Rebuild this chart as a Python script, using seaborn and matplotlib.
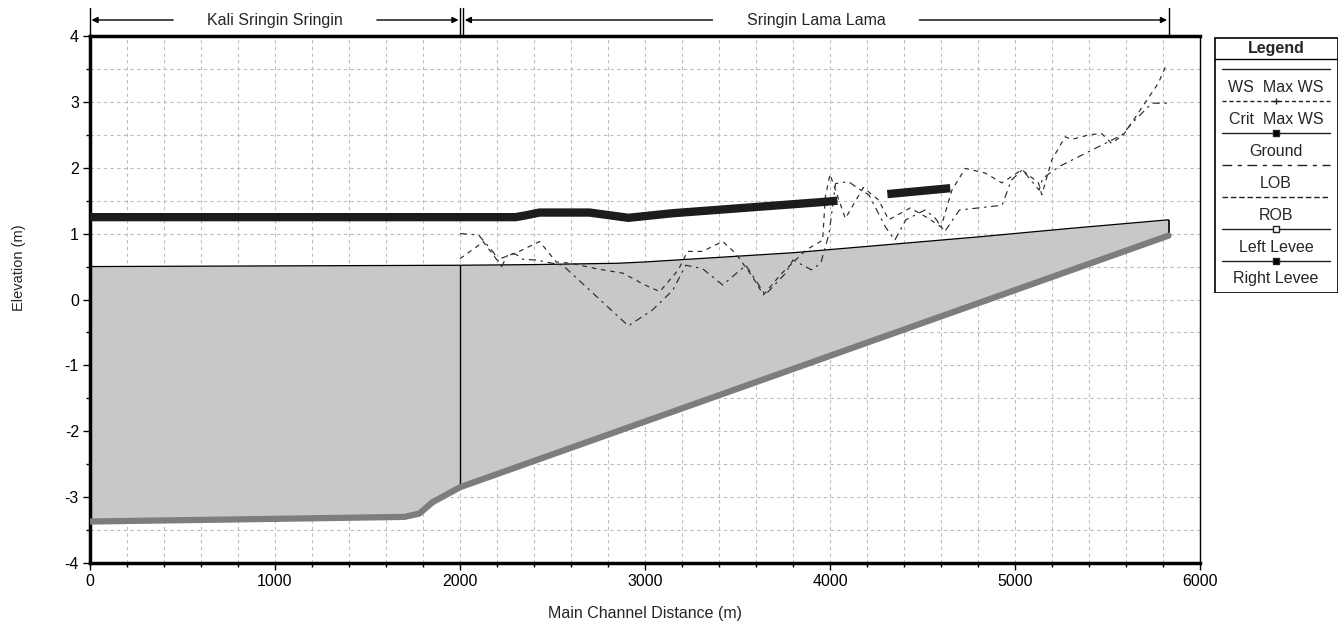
import numpy as np
import matplotlib
matplotlib.use("Agg")
import matplotlib.pyplot as plt
import matplotlib.transforms as mtransforms
from matplotlib.patches import Rectangle
from matplotlib.ticker import MultipleLocator
import seaborn as sns

# Profile data (main channel distance in m, elevation in m) -----------------------
ground_x = [0, 1000, 1700, 1780, 1850, 2000, 5830]
ground_y = [-3.37, -3.33, -3.30, -3.25, -3.08, -2.85, 0.97]

ws_x = [0, 2000, 2400, 2850, 3000, 3400, 3800, 4300, 4800, 5300, 5830]
ws_y = [0.50, 0.52, 0.53, 0.55, 0.57, 0.64, 0.71, 0.83, 0.95, 1.08, 1.21]

left_levee_x = [0, 2300, 2360, 2430, 2700, 2910, 3150, 3960, 4040]
left_levee_y = [1.25, 1.25, 1.28, 1.32, 1.32, 1.24, 1.31, 1.48, 1.50]
right_levee_x = [4310, 4650]
right_levee_y = [1.60, 1.69]

lob_x = [2000, 2100, 2180, 2225, 2260, 2300, 2340, 2410, 2555, 2910, 3040, 3150, 3220,
         3310, 3420, 3545, 3650, 3760, 3800, 3900, 3950, 3995, 4030, 4100, 4150, 4210,
         4300, 4350, 4410, 4515, 4570, 4620, 4700, 4770, 4930, 4980, 5040, 5130, 5150,
         5240, 5360, 5580, 5630, 5740, 5830]
lob_y = [1.00, 0.98, 0.72, 0.50, 0.69, 0.69, 0.61, 0.60, 0.52, -0.40, -0.16, 0.14, 0.52,
         0.47, 0.22, 0.52, 0.07, 0.40, 0.60, 0.45, 0.55, 1.00, 1.76, 1.79, 1.69, 1.59,
         1.10, 0.90, 1.21, 1.36, 1.23, 1.03, 1.36, 1.38, 1.43, 1.81, 1.97, 1.66, 1.84,
         2.02, 2.19, 2.50, 2.67, 2.98, 2.98]

rob_x = [2000, 2090, 2125, 2200, 2320, 2430, 2520, 2600, 2750, 2880, 3000, 3080, 3180,
         3230, 3310, 3420, 3490, 3580, 3640, 3740, 3870, 3960, 3975, 4000, 4083, 4180,
         4263, 4317, 4434, 4533, 4600, 4659, 4731, 4839, 4929, 5037, 5127, 5145, 5199,
         5271, 5307, 5400, 5468, 5522, 5586, 5774, 5818]
rob_y = [0.62, 0.80, 0.88, 0.60, 0.73, 0.88, 0.57, 0.55, 0.46, 0.40, 0.22, 0.12, 0.45,
         0.73, 0.73, 0.88, 0.70, 0.35, 0.07, 0.40, 0.75, 0.90, 1.56, 1.90, 1.23, 1.70,
         1.51, 1.21, 1.39, 1.23, 1.10, 1.66, 1.99, 1.92, 1.77, 1.97, 1.77, 1.59, 2.12,
         2.47, 2.43, 2.50, 2.52, 2.37, 2.50, 3.28, 3.56]

reach_names = ["Kali Sringin Sringin", "Sringin Lama Lama"]
reach_start = [0, 2018]
reach_end = [2000, 5830]

legend_labels = ["WS  Max WS", "Crit  Max WS", "Ground", "LOB", "ROB", "Left Levee", "Right Levee"]

# Style --------------------------------------------------------------------------
sns.set_style("white")
plt.rcParams["font.family"] = ["Liberation Sans", "DejaVu Sans"]
plt.rcParams["axes.unicode_minus"] = False

W, H = 1344, 626
fig = plt.figure(figsize=(W / 100, H / 100), dpi=100)
ax = fig.add_axes([90 / W, 1 - 563 / H, 1110 / W, 527 / H])

# Grid ---------------------------------------------------------------------------
ax.set_axisbelow(True)
ax.xaxis.set_major_locator(MultipleLocator(1000))
ax.xaxis.set_minor_locator(MultipleLocator(200))
ax.yaxis.set_major_locator(MultipleLocator(1))
ax.yaxis.set_minor_locator(MultipleLocator(0.5))
ax.grid(which="both", linestyle=(0, (3, 3)), color="#bdbdbd", linewidth=0.8)

# Water body fill between ground and WS
ax.fill(np.r_[ws_x, ground_x[::-1]], np.r_[ws_y, ground_y[::-1]],
        color="#c8c8c8", linewidth=0, zorder=1)

# Lines --------------------------------------------------------------------------
sns.lineplot(x=ws_x, y=ws_y, ax=ax, color="black", linewidth=0.9, sort=False,
             estimator=None, zorder=3)
ax.vlines(ws_x[-1], ground_y[-1], ws_y[-1], color="black", linewidth=1.2, zorder=3)
ax.vlines(reach_end[0], np.interp(reach_end[0], ground_x, ground_y),
          np.interp(reach_end[0], ws_x, ws_y), color="black", linewidth=1, zorder=3)

sns.lineplot(x=ground_x, y=ground_y, ax=ax, color="#7d7d7d", linewidth=4.5, sort=False,
             estimator=None, zorder=4)

sns.lineplot(x=lob_x, y=lob_y, ax=ax, color="#2a2a2a", linewidth=0.85, sort=False,
             estimator=None, linestyle=(0, (6, 4, 2, 4)), zorder=5)
sns.lineplot(x=rob_x, y=rob_y, ax=ax, color="#2a2a2a", linewidth=0.85, sort=False,
             estimator=None, linestyle=(0, (4, 4)), zorder=5)

sns.lineplot(x=left_levee_x, y=left_levee_y, ax=ax, color="#1c1c1c", linewidth=6,
             sort=False, estimator=None, solid_capstyle="butt", zorder=6)
sns.lineplot(x=right_levee_x, y=right_levee_y, ax=ax, color="#1c1c1c", linewidth=6,
             sort=False, estimator=None, solid_capstyle="butt", zorder=6)

# Axes ---------------------------------------------------------------------------
ax.set_xlim(0, 6000)
ax.set_ylim(-4, 4)
for side in ["left", "bottom", "top"]:
    ax.spines[side].set_linewidth(2.5)
    ax.spines[side].set_color("black")
ax.spines["right"].set_linewidth(1)
ax.spines["right"].set_color("black")
ax.tick_params(which="major", direction="out", length=5, width=1, labelsize=11.5,
               colors="black", pad=3)
ax.tick_params(which="minor", direction="out", length=3, width=1, colors="black")
ax.tick_params(top=False, right=False, which="both")
ax.tick_params(axis="x", which="both", bottom=True)
ax.tick_params(axis="y", which="both", left=True)
ax.set_xlabel("Main Channel Distance (m)", fontsize=11.5, labelpad=12)
ax.set_ylabel("Elevation (m)", fontsize=10.5)
ax.yaxis.set_label_coords(-0.058, 0.56)

# Reach annotations above the plot ----------------------------------------------
trans = mtransforms.blended_transform_factory(ax.transData, ax.transAxes)
arrow_y = 1.0 + 16 / 527
texts = []
for name, x0, x1 in zip(reach_names, reach_start, reach_end):
    t = ax.text((x0 + x1) / 2, arrow_y, name, transform=trans, ha="center", va="center",
                fontsize=11.5, clip_on=False)
    texts.append(t)
    for xb in (x0, x1):
        ax.plot([xb, xb], [1.0, 1.0 + 28 / 527], transform=trans, clip_on=False,
                color="black", linewidth=1)

fig.canvas.draw()
renderer = fig.canvas.get_renderer()
inv = ax.transData.inverted()
for t, x0, x1 in zip(texts, reach_start, reach_end):
    bb = t.get_window_extent(renderer)
    xl = inv.transform((bb.x0 - 34, 0))[0]
    xr = inv.transform((bb.x1 + 34, 0))[0]
    for xa, xb in ((xl, x0 + 8), (xr, x1 - 8)):
        ax.annotate("", xy=(xb, arrow_y), xytext=(xa, arrow_y), xycoords=trans,
                    textcoords=trans, annotation_clip=False,
                    arrowprops=dict(arrowstyle="-|>", color="black", lw=1,
                                    mutation_scale=9, shrinkA=0, shrinkB=0))

# Legend panel -------------------------------------------------------------------
lax = fig.add_axes([1214 / W, 1 - 293 / H, 124 / W, 256 / H])
lax.set_xlim(0, 124)
lax.set_ylim(256, 0)
lax.axis("off")
lax.add_patch(Rectangle((0.5, 0.5), 123, 255, fill=False, edgecolor="black", linewidth=1.2))
lax.text(62, 11, "Legend", ha="center", va="center", fontsize=11.5, fontweight="bold")
lax.plot([0.5, 123.5], [22, 22], color="black", linewidth=1)

legend_styles = [
    dict(ls="-", marker=None, mfc=None),
    dict(ls=(0, (3, 2)), marker="+", mfc="black"),
    dict(ls="-", marker="s", mfc="black"),
    dict(ls=(0, (7, 4, 3, 4)), marker=None, mfc=None),
    dict(ls=(0, (4, 2)), marker=None, mfc=None),
    dict(ls="-", marker="s", mfc="white"),
    dict(ls="-", marker="s", mfc="black"),
]
for i, (lab, st) in enumerate(zip(legend_labels, legend_styles)):
    ly = 32 + 32 * i
    lax.plot([8, 116], [ly, ly], color="#222222", linewidth=1, linestyle=st["ls"])
    if st["marker"]:
        lax.plot([62], [ly], marker=st["marker"], markersize=5, color="#222222",
                 markerfacecolor=st["mfc"], markeredgecolor="#222222", linestyle="none")
    lax.text(62, ly + 18, lab, ha="center", va="center", fontsize=11.5)

fig.savefig("out.png", dpi=100)
